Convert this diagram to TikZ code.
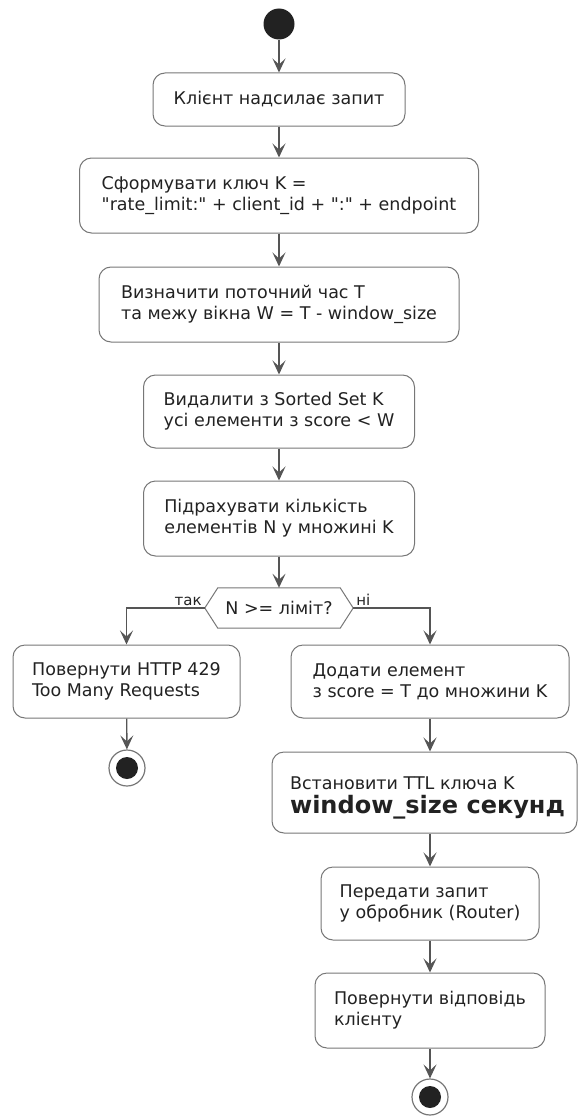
\documentclass[tikz,border=0pt]{standalone}
\usepackage{fontspec}
\setmainfont{DejaVu Sans}[Ligatures=TeXReset]
\usetikzlibrary{arrows.meta,calc}
\definecolor{linec}{HTML}{555555}
\definecolor{edgec}{HTML}{777777}
\definecolor{inkc}{HTML}{222222}
\begin{document}
\begin{tikzpicture}[x=1pt,y=-1pt,
  font=\fontsize{17.5}{21}\selectfont,
  act/.style={draw=edgec, line width=1pt, rounded corners=12pt, fill=white,
    align=left, text=inkc, inner xsep=4pt, inner ysep=0pt},
  flow/.style={draw=linec, line width=1.4pt,
    -{Stealth[length=14pt,width=13pt,inset=6pt]}},
  startdot/.style={circle, fill=inkc, minimum size=31pt, inner sep=0pt},
  enddot/.style={circle, draw=edgec, line width=1.2pt, fill=white,
    minimum size=36pt, inner sep=0pt},
  branchlbl/.style={font=\fontsize{15}{18}\selectfont, text=inkc, inner sep=0pt}
]
\useasboundingbox (0,0) rectangle (578,1116);

% main column
\node[startdot] (start) at (279,24) {};
\node[act, minimum width=252pt, minimum height=53pt] (b1) at (279,99.5)
  {Клієнт надсилає запит};
\node[act, minimum width=399pt, minimum height=75pt] (b2) at (279,195.5)
  {Сформувати ключ K =\\"rate\_limit:" + client\_id + ":" + endpoint};
\node[act, minimum width=360pt, minimum height=75pt] (b3) at (279,304.5)
  {Визначити поточний час T\\та межу вікна W = T - window\_size};
\node[act, minimum width=271pt, minimum height=73pt] (b4) at (279,411.5)
  {Видалити з Sorted Set K\\усі елементи з score < W};
\node[act, minimum width=271pt, minimum height=75pt] (b5) at (279,518.5)
  {Підрахувати кількість\\елементів N у множині K};

% decision
\node[minimum width=148pt, minimum height=40pt, inner sep=0pt, text=inkc] (dec) at (279,608)
  {N >= ліміт?};
\draw[draw=edgec, line width=1pt, fill=white]
  (dec.west) -- ($(dec.north west)+(13,0)$) -- ($(dec.north east)+(-13,0)$)
  -- (dec.east) -- ($(dec.south east)+(-13,0)$) -- ($(dec.south west)+(13,0)$) -- cycle;
\node[text=inkc] at (dec) {N >= ліміт?};

% rejected branch
\node[act, minimum width=227pt, minimum height=73pt] (b6) at (126.5,681.5)
  {Повернути HTTP 429\\Too Many Requests};
\node[enddot] (endL) at (127,768) {};
\fill[inkc] (endL) circle (11pt);

% accepted branch
\node[act, minimum width=278pt, minimum height=73pt] (b7) at (430,681.5)
  {Додати елемент\\з score = T до множини K};
\node[act, minimum width=305pt, minimum height=81pt] (b8) at (424.5,792.5)
  {\hspace*{6pt}\rule{0pt}{22.8pt}Встановити TTL ключа K\\[3pt]%
   \hspace*{6pt}{\fontsize{24}{28}\selectfont\bfseries window\_size секунд}};
\node[act, minimum width=218pt, minimum height=73pt] (b9) at (430,903.5)
  {Передати запит\\у обробник (Router)};
\node[act, minimum width=230pt, minimum height=75pt] (b10) at (430,1010.5)
  {Повернути відповідь\\клієнту};
\node[enddot] (endR) at (430,1097) {};
\fill[inkc] (endR) circle (11pt);

% connectors
\draw[flow] (start) -- (b1);
\draw[flow] (b1) -- (b2);
\draw[flow] (b2) -- (b3);
\draw[flow] (b3) -- (b4);
\draw[flow] (b4) -- (b5);
\draw[flow] (b5) -- (dec.north);
\draw[flow] (dec.west) -| (b6.north);
\draw[flow] (dec.east) -| (b7.north);
\draw[flow] (b6) -- (endL);
\draw[flow] (b7.south) -- (b7.south |- b8.north);
\draw[flow] (b7.south |- b8.south) -- (b9.north);
\draw[flow] (b9) -- (b10);
\draw[flow] (b10) -- (endR);

% branch labels
\node[branchlbl, anchor=base east] at ($(dec.west)+(-3,-3)$) {так};
\node[branchlbl, anchor=base west] at ($(dec.east)+(3,-3)$) {ні};
\end{tikzpicture}
\end{document}
